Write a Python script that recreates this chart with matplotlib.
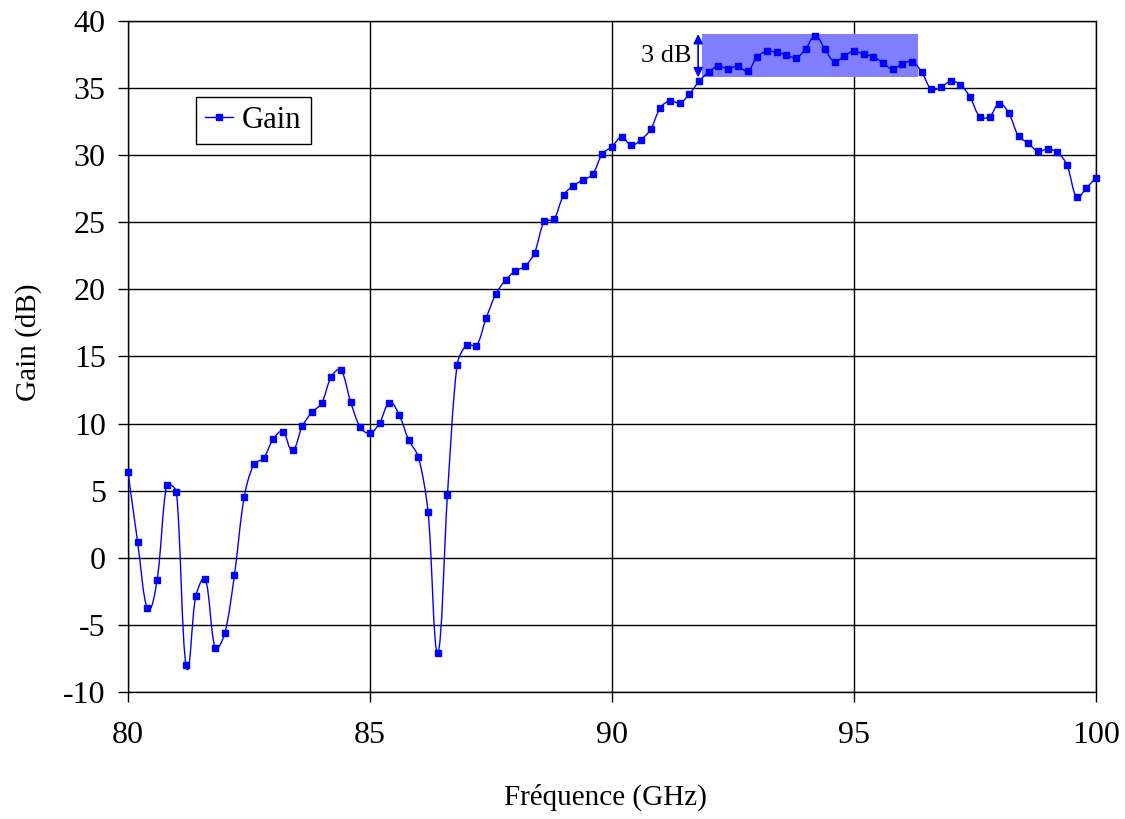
import numpy as np
import matplotlib
matplotlib.use("Agg")
import matplotlib.pyplot as plt
from matplotlib.path import Path
from matplotlib.patches import PathPatch, Rectangle

# ---------------- data ----------------
freq_ghz = [80.0, 80.2, 80.4, 80.6, 80.8, 81.0, 81.2, 81.4, 81.6, 81.8,
            82.0, 82.2, 82.4, 82.6, 82.8, 83.0, 83.2, 83.4, 83.6, 83.8,
            84.0, 84.2, 84.4, 84.6, 84.8, 85.0, 85.2, 85.4, 85.6, 85.8,
            86.0, 86.2, 86.4, 86.6, 86.8, 87.0, 87.2, 87.4, 87.6, 87.8,
            88.0, 88.2, 88.4, 88.6, 88.8, 89.0, 89.2, 89.4, 89.6, 89.8,
            90.0, 90.2, 90.4, 90.6, 90.8, 91.0, 91.2, 91.4, 91.6, 91.8,
            92.0, 92.2, 92.4, 92.6, 92.8, 93.0, 93.2, 93.4, 93.6, 93.8,
            94.0, 94.2, 94.4, 94.6, 94.8, 95.0, 95.2, 95.4, 95.6, 95.8,
            96.0, 96.2, 96.4, 96.6, 96.8, 97.0, 97.2, 97.4, 97.6, 97.8,
            98.0, 98.2, 98.4, 98.6, 98.8, 99.0, 99.2, 99.4, 99.6, 99.8,
            100.0]
gain_db = [6.37, 1.15, -3.74, -1.68, 5.42, 4.93, -8.01, -2.87, -1.58, -6.72,
           -5.63, -1.26, 4.51, 6.97, 7.41, 8.85, 9.40, 8.01, 9.80, 10.84,
           11.51, 13.50, 14.00, 11.61, 9.72, 9.28, 10.07, 11.54, 10.66, 8.78,
           7.51, 3.39, -7.07, 4.68, 14.37, 15.88, 15.80, 17.85, 19.66, 20.70,
           21.37, 21.72, 22.74, 25.07, 25.22, 27.03, 27.73, 28.15, 28.57, 30.11,
           30.63, 31.33, 30.74, 31.16, 31.93, 33.54, 34.06, 33.89, 34.56, 35.51,
           36.20, 36.65, 36.42, 36.65, 36.27, 37.34, 37.74, 37.67, 37.47, 37.27,
           37.91, 38.88, 37.89, 36.97, 37.42, 37.74, 37.52, 37.34, 36.87, 36.42,
           36.82, 36.97, 36.20, 34.91, 35.08, 35.51, 35.26, 34.31, 32.87, 32.87,
           33.82, 33.12, 31.41, 30.91, 30.29, 30.46, 30.22, 29.27, 26.86, 27.56,
           28.32]
band_x = [91.85, 96.32]     # 3 dB bandwidth shading
band_y = [35.8, 39.03]
x_ticks = [80, 85, 90, 95, 100]
y_ticks = [-10, -5, 0, 5, 10, 15, 20, 25, 30, 35, 40]

SERIF = ["Liberation Serif", "DejaVu Serif"]
plt.rcParams["font.family"] = SERIF
plt.rcParams["axes.unicode_minus"] = False
FS_TICK = 23
FS_LAB = 21
FS_LEG = 22

fig = plt.figure(figsize=(11.25, 8.19), dpi=100)
ax = fig.add_axes([128/1125, 1-692/819, (1096-128)/1125, (692-21)/819])

ax.set_xlim(80, 100)
ax.set_ylim(-10, 40)
ax.set_xticks(x_ticks)
ax.set_yticks(y_ticks)
ax.grid(True, color="black", linewidth=1.0)
ax.set_axisbelow(True)
for s in ax.spines.values():
    s.set_color("black")
    s.set_linewidth(1.0)
ax.tick_params(direction="out", length=7, width=1, labelsize=FS_TICK)
ax.tick_params(axis="y", pad=9)
ax.tick_params(axis="x", pad=14)

# shaded 3 dB region
ax.add_patch(Rectangle((band_x[0], band_y[0]), band_x[1]-band_x[0], band_y[1]-band_y[0],
                       facecolor="#7f7fff", edgecolor="none", zorder=1.5))

# smoothed line (Bezier smoothing computed in display space, Excel-like)
fig.canvas.draw()
pts = ax.transData.transform(np.column_stack([freq_ghz, gain_db]))
n = len(pts)
tens = 0.33
verts = [pts[0]]
codes = [Path.MOVETO]
def direction(i):
    a = pts[max(i-1, 0)]
    b = pts[min(i+1, n-1)]
    d = b - a
    return d / (np.hypot(*d) + 1e-12)
def ctrl(i, seg_vec):
    seg = np.hypot(*seg_vec)
    v = direction(i) * seg * tens
    lim = abs(seg_vec[0]) * 0.45
    if abs(v[0]) > lim and abs(v[0]) > 0:
        v = v * (lim / abs(v[0]))
    return v
for i in range(n-1):
    sv = pts[i+1] - pts[i]
    c1 = pts[i] + ctrl(i, sv)
    c2 = pts[i+1] - ctrl(i+1, sv)
    verts += [c1, c2, pts[i+1]]
    codes += [Path.CURVE4]*3
ax.add_patch(PathPatch(Path(verts, codes), facecolor="none", edgecolor="#0000ff",
                       linewidth=1.0, zorder=3, transform=None))
ax.plot(freq_ghz, gain_db, linestyle="none", marker="s", markersize=4.5,
        color="#0000ff", zorder=4, clip_on=False)

# legend proxy
proxy, = ax.plot([], [], color="#0000ff", linewidth=1.0, marker="s", markersize=4.5)
leg = ax.legend([proxy], ["Gain"], loc="upper left",
                bbox_to_anchor=(196/1125, 1-97/819), bbox_transform=fig.transFigure,
                fancybox=False, edgecolor="black", framealpha=1, fontsize=FS_LEG,
                borderaxespad=0, handlelength=0.9, borderpad=0.3, handletextpad=0.3)
leg.get_frame().set_linewidth(1.0)

# 3 dB arrow and label
ax.annotate("", xy=(91.78, band_y[1]), xytext=(91.78, band_y[0]),
            arrowprops=dict(arrowstyle="<|-|>", color="#0000ff", lw=1.2,
                            mutation_scale=14, shrinkA=0, shrinkB=0), zorder=5)
ax.text(91.65, 37.4, "3 dB", fontsize=19, ha="right", va="center")

fig.text(605/1125, 1-797/819, "Fréquence (GHz)", fontsize=FS_LAB, ha="center", va="center")
fig.text(29/1125, 1-342/819, "Gain (dB)", fontsize=FS_LAB, ha="center", va="center",
         rotation=90)

fig.savefig("out.png", dpi=100)
